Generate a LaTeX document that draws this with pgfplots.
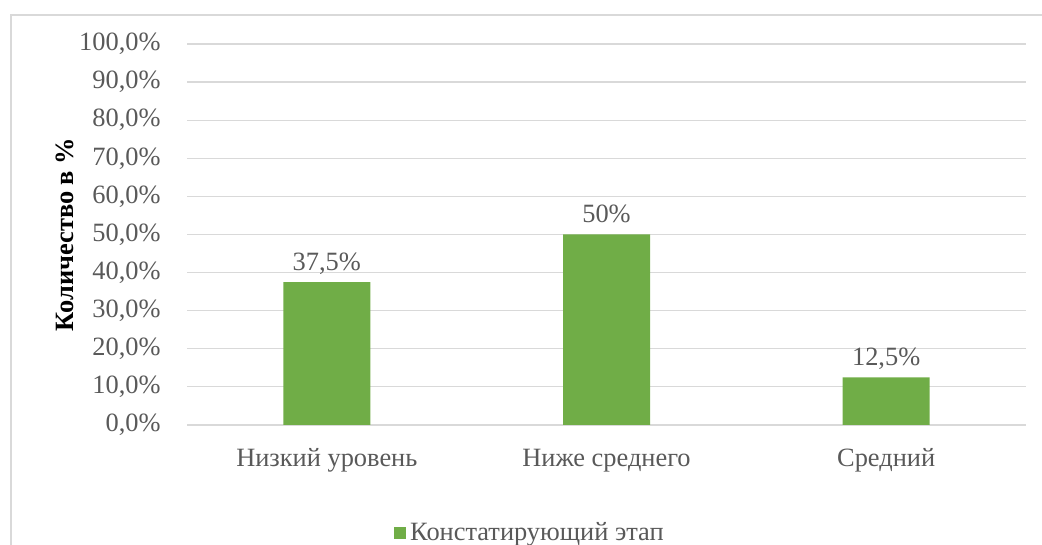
\documentclass[border=0pt]{standalone}
\usepackage{pgfplots}
\pgfplotsset{compat=1.18}
\usepackage{fontspec}
\setmainfont{Liberation Serif}
\definecolor{barg}{HTML}{70AD47}
\definecolor{txt}{HTML}{595959}
\definecolor{gridc}{HTML}{D9D9D9}
\begin{document}
\begin{tikzpicture}
\path[use as bounding box] (0,0) rectangle (521pt,272.5pt);
\draw[gridc, line width=0.6pt] (5.5pt,0) -- (5.5pt,265pt) -- (521pt,265pt);
\begin{axis}[
  at={(93.5pt,60pt)}, anchor=south west,
  scale only axis, width=419.5pt, height=190.5pt,
  xmin=-0.5, xmax=2.5, ymin=0, ymax=100,
  xtick={0,1,2},
  xticklabels={Низкий уровень, Ниже среднего, Средний},
  ytick={0,10,...,100},
  yticklabels={{0,0\%},{10,0\%},{20,0\%},{30,0\%},{40,0\%},{50,0\%},{60,0\%},{70,0\%},{80,0\%},{90,0\%},{100,0\%}},
  ymajorgrids, grid style={gridc, line width=0.6pt},
  axis line style={draw=none}, tick style={draw=none},
  font=\fontsize{13.2pt}{16pt}\selectfont,
  tick label style={text=txt},
  yticklabel style={anchor=east, inner sep=0pt, xshift=-13pt},
  xticklabel style={anchor=base, inner sep=0pt, yshift=-21pt},
  ylabel={\bfseries Количество в \%},
  ylabel style={at={(axis description cs:-0.1454,0.5)}, anchor=center, text=black},
  legend style={draw=none, at={(axis description cs:0.41,-0.2835)}, anchor=center, text=txt, font=\fontsize{13.2pt}{16pt}\selectfont, inner sep=0pt, cells={anchor=west}},
  legend image code/.code={\fill[barg] (0pt,-3pt) rectangle (6pt,3pt);},
  nodes near coords style={text=txt, anchor=base, inner sep=0pt, yshift=6pt},
]
\addplot[ybar, bar width=43.5pt, fill=barg, draw=none, nodes near coords, point meta=explicit symbolic]
  coordinates {(0,37.5) [37,5\%] (1,50) [50\%] (2,12.5) [12,5\%]};
\addlegendentry{Констатирующий этап}
\end{axis}
\end{tikzpicture}
\end{document}
